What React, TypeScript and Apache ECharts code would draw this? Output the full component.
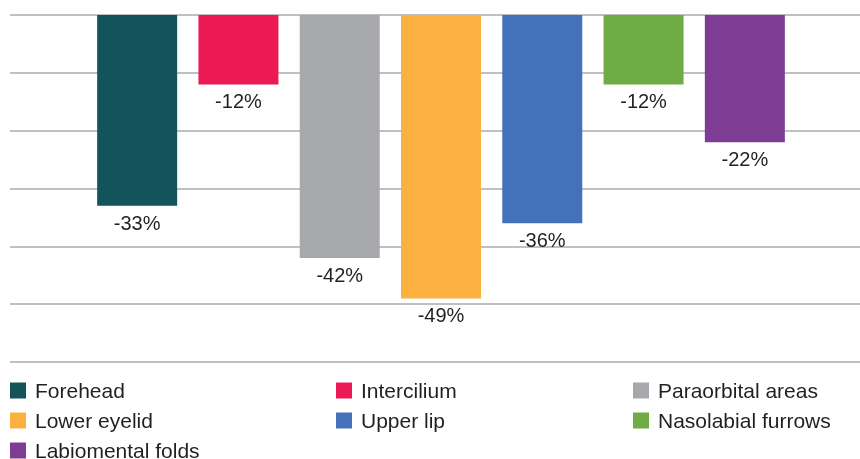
import React, { useEffect, useRef } from "react";
import * as echarts from "echarts";

const seriesNames = [
  "Forehead",
  "Intercilium",
  "Paraorbital areas",
  "Lower eyelid",
  "Upper lip",
  "Nasolabial furrows",
  "Labiomental folds",
];
const seriesValues = [-33, -12, -42, -49, -36, -12, -22];
const seriesColors = [
  "#12545A",
  "#EC1A54",
  "#A7A8AB",
  "#FBB040",
  "#4472BA",
  "#6FAC46",
  "#7E3C95",
];
const categories = [""];
const legendCol1 = ["Forehead", "Lower eyelid", "Labiomental folds"];
const legendCol2 = ["Intercilium", "Upper lip"];
const legendCol3 = ["Paraorbital areas", "Nasolabial furrows"];

const FONT = "'Liberation Sans', Arial, Helvetica, sans-serif";

export default function App() {
  const ref = useRef<HTMLDivElement>(null);
  useEffect(() => {
    if (!ref.current) return;
    const chart = echarts.init(ref.current, undefined, { renderer: "svg" });
    const legendBase = {
      orient: "vertical" as const,
      top: 380,
      padding: 0,
      itemWidth: 16,
      itemHeight: 16,
      itemGap: 9,
      icon: "rect",
      selectedMode: false,
      textStyle: {
        fontFamily: FONT,
        fontSize: 21,
        lineHeight: 21,
        color: "#231F20",
        padding: [0, 0, 0, 4],
      },
    };
    chart.setOption({
      animation: false,
      grid: { left: 10, right: 0, top: 15, bottom: 128, containLabel: false },
      legend: [
        { ...legendBase, left: 10, data: legendCol1 },
        { ...legendBase, left: 336, data: legendCol2 },
        { ...legendBase, left: 633, data: legendCol3 },
      ],
      xAxis: {
        type: "category",
        data: categories,
        axisLine: { show: false },
        axisTick: { show: false },
        axisLabel: { show: false },
      },
      yAxis: {
        type: "value",
        min: -60,
        max: 0,
        interval: 10,
        axisLabel: { show: false },
        axisLine: { show: false },
        axisTick: { show: false },
        splitLine: { lineStyle: { color: "#ABABAB", width: 1.5 } },
      },
      series: seriesNames.map((name, i) => ({
        name,
        type: "bar",
        data: [seriesValues[i]],
        barWidth: 80,
        barGap: "26.6%",
        itemStyle: { color: seriesColors[i] },
        label: {
          show: true,
          position: "bottom",
          distance: 7,
          fontFamily: FONT,
          fontSize: 20,
          color: "#231F20",
          formatter: (p: any) => `${p.value}%`,
        },
      })),
    });
    return () => chart.dispose();
  }, []);
  return (
    <div
      ref={ref}
      style={{ position: "fixed", left: 0, top: 0, width: 872, height: 490 }}
    />
  );
}
